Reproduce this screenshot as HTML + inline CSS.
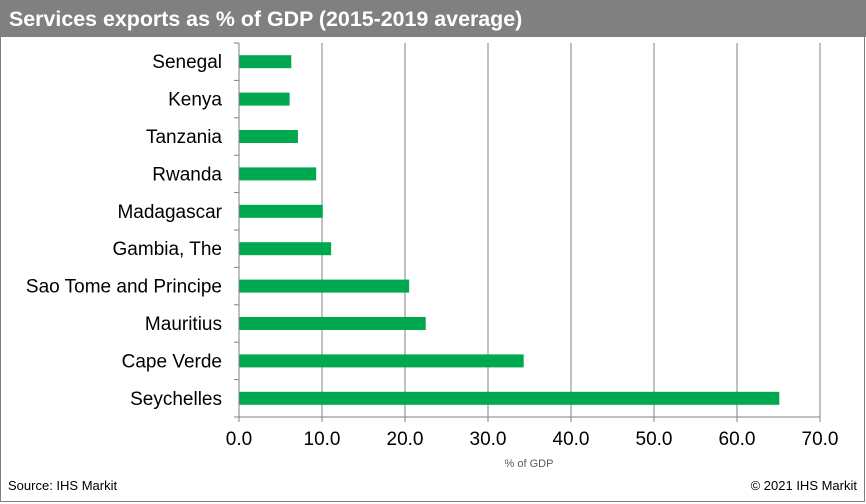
<!DOCTYPE html>
<html><head><meta charset="utf-8"><style>
body{margin:0;background:#fff;}
#wrap{position:relative;width:866px;height:504px;overflow:hidden;font-family:"Liberation Sans",Arial,sans-serif;}
</style></head><body>
<div id="wrap">
<svg id="chart" width="866" height="504" xmlns="http://www.w3.org/2000/svg">
<rect x="0.5" y="0.5" width="864" height="501" fill="#fff" stroke="#808080"/>
<rect x="0" y="0" width="866" height="37" fill="#808080"/>
<text x="9" y="26" font-size="21.4" font-weight="bold" fill="#fff" font-family="Liberation Sans, Arial, sans-serif">Services exports as % of GDP (2015-2019 average)</text>
<g id="grid"></g><g id="bars"></g><g id="axes"></g>
<text x="529" y="467" font-size="11" fill="#595959" text-anchor="middle" font-family="Liberation Sans, Arial, sans-serif">% of GDP</text>
<text x="8" y="490" font-size="13" fill="#000" font-family="Liberation Sans, Arial, sans-serif">Source: IHS Markit</text>
<text x="857" y="490" font-size="13" fill="#000" text-anchor="end" font-family="Liberation Sans, Arial, sans-serif">© 2021 IHS Markit</text>
</svg>
</div>
<script>
const categories = ["Senegal","Kenya","Tanzania","Rwanda","Madagascar","Gambia, The","Sao Tome and Principe","Mauritius","Cape Verde","Seychelles"];
const values = [6.3, 6.1, 7.1, 9.3, 10.1, 11.1, 20.5, 22.5, 34.3, 65.1];
const ticks = [0,10,20,30,40,50,60,70];
const tickLabels = ["0.0","10.0","20.0","30.0","40.0","50.0","60.0","70.0"];

const NS="http://www.w3.org/2000/svg";
const x0=239,x1=820,yTop=43,yBot=417,xMax=70;
const xs=v=>x0+(v/xMax)*(x1-x0);
const band=(yBot-yTop)/categories.length;
const yc=i=>yTop+band*(i+0.5);
function mk(tag,attrs,parent){const e=document.createElementNS(NS,tag);for(const k in attrs)e.setAttribute(k,attrs[k]);parent.appendChild(e);return e;}
const grid=document.getElementById('grid'),bars=document.getElementById('bars'),axes=document.getElementById('axes');
ticks.forEach((t,i)=>{
  if(t>0){const g=mk('line',{x1:xs(t),x2:xs(t),y1:yTop,y2:yBot,stroke:'#808080','stroke-width':1},grid);
  
  }
  const tk=mk('line',{x1:xs(t),x2:xs(t),y1:yBot,y2:yBot+5,stroke:'#808080'},axes);
  
  
  const lb=mk('text',{x:xs(t),y:445,'font-size':19,'text-anchor':'middle',fill:'#000','font-family':'Liberation Sans, Arial, sans-serif'},axes);
  lb.textContent=tickLabels[i];
  
  
});
const ya=mk('line',{x1:x0,x2:x0,y1:yTop,y2:yBot,stroke:'#808080'},axes);


const xa=mk('line',{x1:x0,x2:x1,y1:yBot,y2:yBot,stroke:'#808080'},axes);


for(let i=0;i<=categories.length;i++){
  const y=yTop+band*i;
  const t=mk('line',{x1:x0-5,x2:x0,y1:y,y2:y,stroke:'#808080'},axes);
  
  
}
categories.forEach((c,i)=>{
  const r=mk('rect',{x:x0,y:yc(i)-6.5,width:xs(values[i])-x0,height:13,fill:'#00A94F'},bars);
  
  
  const l=mk('text',{x:222,y:yc(i)+6.5,'font-size':19,'text-anchor':'end',fill:'#000','font-family':'Liberation Sans, Arial, sans-serif'},axes);
  l.textContent=c;
  
  
});
</script>
</body></html>
